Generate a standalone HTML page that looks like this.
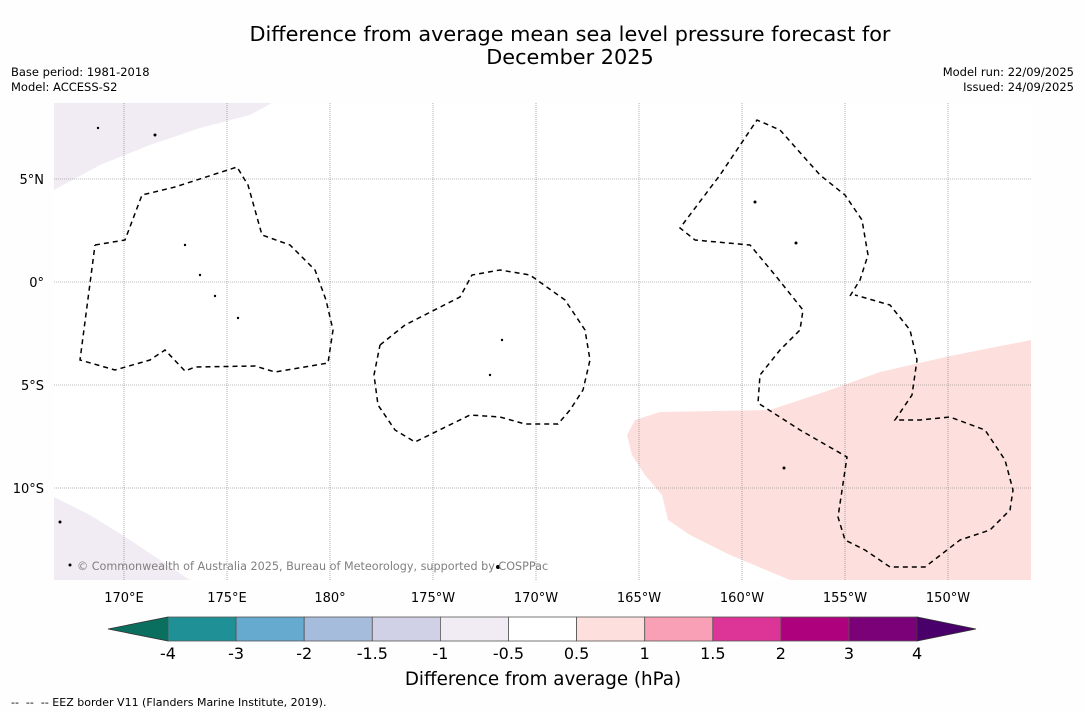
<!DOCTYPE html>
<html><head><meta charset="utf-8"><style>
body{margin:0;background:#fff;font-family:"Liberation Sans","DejaVu Sans",sans-serif;}
svg text{font-family:"DejaVu Sans","Liberation Sans",sans-serif;}
</style></head><body>
<svg id="chart" width="1085" height="713" viewBox="0 0 1085 713">
<rect width="1085" height="713" fill="#fefefe"/>
<text x="570" y="41" text-anchor="middle" font-size="20.8">Difference from average mean sea level pressure forecast for</text>
<text x="570" y="64" text-anchor="middle" font-size="20.8">December 2025</text>
<text x="11" y="76" font-size="11.5">Base period: 1981-2018</text>
<text x="11" y="91" font-size="11.5">Model: ACCESS-S2</text>
<text x="1074" y="76" font-size="11.5" text-anchor="end">Model run: 22/09/2025</text>
<text x="1074" y="91" font-size="11.5" text-anchor="end">Issued: 24/09/2025</text>
<g id="map">
<rect x="54" y="103" width="977" height="477" fill="#fff"/>
<polygon fill="#fde0dd" points="1031,340 950,356 880,372 830,390 770,410 660,412 635,420 627,435 632,455 645,475 662,495 668,520 690,535 730,555 790,580 1031,580"/>
<polygon fill="#f1ecf3" points="54,103 272,103 250,115 200,128 150,145 100,165 54,190"/>
<polygon fill="#f1ecf3" points="54,497 90,515 130,540 190,580 54,580"/>
<g id="grid"></g>
<g fill="none" stroke="#000" stroke-width="1.5" stroke-dasharray="5,4">
<polyline points="95,245 125,240 142,195 175,187 237,167 248,185 262,235 290,245 315,270 326,300 333,330 328,363 275,372 255,366 195,367 185,371 165,350 150,360 115,370 80,360 95,245"/>
<polyline points="380,345 405,325 460,297 472,275 500,270 530,275 565,300 585,330 590,360 583,390 570,410 558,424 525,424 500,417 470,415 415,442 395,430 378,405 374,375 380,345"/>
<polyline points="850,296 860,280 868,255 862,220 845,195 820,175 780,130 757,120 720,175 680,228 695,240 750,245 775,275 803,310 800,330 780,350 760,375 758,403 800,430 847,457 838,517 845,540 865,550 890,567 925,567 960,540 990,530 1010,510 1013,490 1005,460 985,430 950,417 920,420 895,420 912,395 917,360 910,330 890,305 855,295"/>
</g>
<g fill="#000">
<circle cx="185" cy="245" r="1.2"/><circle cx="200" cy="275" r="1.2"/><circle cx="215" cy="296" r="1.2"/><circle cx="238" cy="318" r="1.2"/><circle cx="502" cy="340" r="1.2"/><circle cx="490" cy="375" r="1.2"/><circle cx="784" cy="468" r="1.5"/><circle cx="755" cy="202" r="1.5"/><circle cx="796" cy="243" r="1.5"/><circle cx="498" cy="567" r="2"/><circle cx="60" cy="522" r="1.5"/><circle cx="70" cy="565" r="1.5"/><circle cx="155" cy="135" r="1.5"/><circle cx="98" cy="128" r="1.2"/>
</g>
<text x="77" y="570" font-size="11.2" fill="#808080">© Commonwealth of Australia 2025, Bureau of Meteorology, supported by COSPPac</text>
<g id="ticks"></g>
</g>
<g id="cbar"></g>
<text x="543" y="685" text-anchor="middle" font-size="18.3">Difference from average (hPa)</text>
<text x="11" y="706" font-size="11" xml:space="preserve">--  --  -- EEZ border V11 (Flanders Marine Institute, 2019).</text>
</svg>
<script>
const lonTicks=[170,175,180,-175,-170,-165,-160,-155,-150];
const lonLabels=["170°E","175°E","180°","175°W","170°W","165°W","160°W","155°W","150°W"];
const latTicks=[5,0,-5,-10];
const latLabels=["5°N","0°","5°S","10°S"];
const cbarBounds=["-4","-3","-2","-1.5","-1","-0.5","0.5","1","1.5","2","3","4"];
const cbarColors=["#1f9196","#66aad0","#a6bcdc","#d0d1e6","#f1ecf3","#ffffff","#fde0dd","#f99fb6","#dd3497","#ae017e","#7a0177"];
const ns="http://www.w3.org/2000/svg";
function xLon(l){const e=l<0?360+l:l;return 124+(e-170)*20.6;}
function yLat(l){return 282-l*20.6;}
function mk(t,a,p){const e=document.createElementNS(ns,t);for(const k in a)e.setAttribute(k,a[k]);p.appendChild(e);return e;}
const grid=document.getElementById('grid'),ticks=document.getElementById('ticks');
lonTicks.forEach((l,i)=>{const x=xLon(l);
const g=mk('line',{x1:x,x2:x,y1:103,y2:580,stroke:'#777','stroke-width':0.6,'stroke-dasharray':'1,1'},grid);


const t=mk('text',{x:x,y:602,'text-anchor':'middle','font-size':13},ticks);t.textContent=lonLabels[i];

});
latTicks.forEach((l,i)=>{const y=yLat(l);
const g=mk('line',{x1:54,x2:1031,y1:y,y2:y,stroke:'#777','stroke-width':0.6,'stroke-dasharray':'1,1'},grid);


const t=mk('text',{x:44,y:y+5,'text-anchor':'end','font-size':13},ticks);t.textContent=latLabels[i];

});
const cb=document.getElementById('cbar');const x0=168,w=68.1,y0=617,h=24;
const lo=mk('polygon',{points:`${x0},${y0} ${x0},${y0+h} 108,${y0+h/2}`,fill:'#0b6f60',stroke:'#333','stroke-width':0.8},cb);


cbarColors.forEach((c,i)=>{const r=mk('rect',{x:x0+i*w,y:y0,width:w,height:h,fill:c,stroke:'#555','stroke-width':0.8},cb);

});
const xe=x0+cbarColors.length*w;
const hi=mk('polygon',{points:`${xe},${y0} ${xe},${y0+h} 976,${y0+h/2}`,fill:'#49006a',stroke:'#333','stroke-width':0.8},cb);


cbarBounds.forEach((b,i)=>{const t=mk('text',{x:x0+i*w,y:659,'text-anchor':'middle','font-size':16},cb);t.textContent=b;

});
</script>
</body></html>
